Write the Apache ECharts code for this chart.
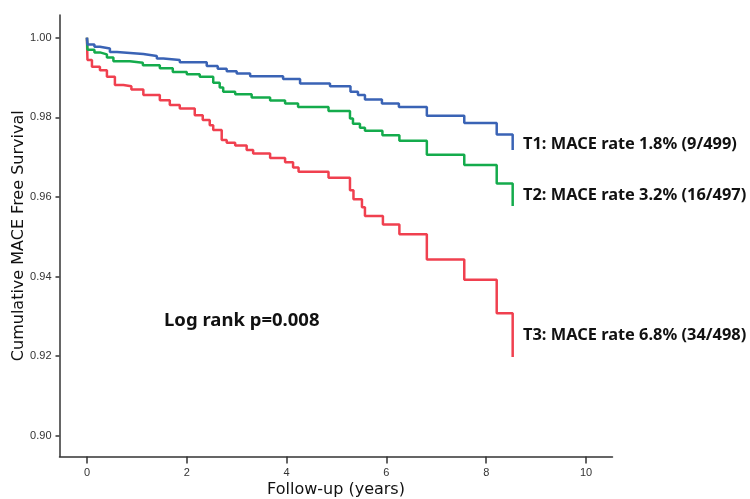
<!DOCTYPE html>
<html>
<head>
<meta charset="utf-8">
<script src="https://cdn.jsdelivr.net/npm/echarts@6/dist/echarts.min.js"></script>
<style>
html,body{margin:0;padding:0;background:#fff;}
#main{width:750px;height:499px;}
</style>
</head>
<body>
<div id="main"></div>
<script>
// follow-up time (years) and survival after each step
var t1Time=[0,0.01,0.15,0.26,0.46,0.60,1.13,1.40,1.53,1.86,2.40,2.62,2.80,3.00,3.27,3.93,4.27,4.87,5.28,5.43,5.57,5.91,6.25,6.81,7.56,8.21,8.53];
var t1Surv=[1.000,0.9983,0.9977,0.9973,0.9964,0.9959,0.9954,0.9948,0.9944,0.9938,0.9929,0.9922,0.9916,0.9910,0.9903,0.9896,0.9885,0.9878,0.9864,0.9856,0.9845,0.9835,0.9826,0.9804,0.9786,0.9757,0.9718];

var t2Time=[0,0.01,0.15,0.26,0.40,0.53,0.86,1.12,1.46,1.72,2.00,2.26,2.53,2.66,2.73,2.97,3.30,3.67,3.97,4.23,4.84,5.27,5.33,5.47,5.57,5.92,6.26,6.81,7.56,8.21,8.53];
var t2Surv=[1.000,0.9970,0.9963,0.9958,0.9950,0.9941,0.9937,0.9931,0.9923,0.9914,0.9908,0.9902,0.9887,0.9875,0.9864,0.9858,0.9850,0.9842,0.9835,0.9826,0.9816,0.9797,0.9784,0.9774,0.9766,0.9755,0.9741,0.9706,0.9680,0.9634,0.9577];

var t3Time=[0,0.01,0.10,0.26,0.40,0.56,0.73,0.89,1.13,1.46,1.66,1.86,2.16,2.32,2.46,2.53,2.70,2.80,2.97,3.20,3.33,3.67,3.97,4.13,4.24,4.84,5.27,5.34,5.51,5.57,5.93,6.26,6.81,7.56,8.21,8.53];
var t3Surv=[1.000,0.9944,0.9927,0.9918,0.9902,0.9881,0.9878,0.9870,0.9856,0.9843,0.9831,0.9822,0.9805,0.9793,0.9780,0.9768,0.9743,0.9736,0.9729,0.9718,0.9709,0.9698,0.9687,0.9674,0.9663,0.9648,0.9617,0.9594,0.9574,0.9552,0.9531,0.9506,0.9443,0.9392,0.9308,0.9198];

var xTicks=[0,2,4,6,8,10];
var yTicks=[0.90,0.92,0.94,0.96,0.98,1.00];
var groupLabels=['T1: MACE rate 1.8% (9/499)','T2: MACE rate 3.2% (16/497)','T3: MACE rate 6.8% (34/498)'];
var pText='Log rank p=0.008';

function pairs(t,s){
	var out=[];
	for(var i=0;i<t.length;i++){
		out.push([t[i],s[i]]);
	}
	return out;
}

var chart=echarts.init(document.getElementById('main'),null,{renderer:'canvas'});
var axisColor='#333';
var tickFont='"Liberation Sans",Arial,sans-serif';
var nameFont='"DejaVu Sans",sans-serif';
var lbl={fontFamily:'"Noto Sans",sans-serif',fontWeight:'bold',fontSize:16.4,fill:'#111',verticalAlign:'middle'};

function curve(name,t,s,color){
	return {
		name:name,
		type:'line',
		step:'end',
		symbol:'none',
		data:pairs(t,s),
		lineStyle:{color:color,width:2.5},
		itemStyle:{color:color},
		animation:false
	};
}

var option={
	backgroundColor:'#fff',
	animation:false,
	grid:{left:59.5,right:137.5,top:15,bottom:42.5,outerBoundsMode:'none',containLabel:false},
	xAxis:{
		type:'value',
		min:-0.55,
		max:10.53,
		name:'Follow-up (years)',
		nameLocation:'middle',
		nameGap:25,
		nameMoveOverlap:false,
		nameTextStyle:{fontFamily:nameFont,fontSize:16,color:'#111'},
		axisLine:{show:true,onZero:false,lineStyle:{color:axisColor,width:1.5}},
		axisTick:{show:true,length:7,customValues:xTicks,lineStyle:{color:axisColor,width:1.5}},
		axisLabel:{customValues:xTicks,margin:11,fontSize:11,color:'#333',fontFamily:tickFont},
		splitLine:{show:false}
	},
	yAxis:{
		type:'value',
		min:0.8948,
		max:1.0057,
		name:'Cumulative MACE Free Survival',
		nameLocation:'middle',
		nameGap:33,
		nameMoveOverlap:false,
		nameTextStyle:{fontFamily:nameFont,fontSize:16,color:'#111'},
		axisLine:{show:true,onZero:false,lineStyle:{color:axisColor,width:1.5}},
		axisTick:{show:true,length:4,customValues:yTicks,lineStyle:{color:axisColor,width:1.5}},
		axisLabel:{customValues:yTicks,margin:8,fontSize:11,color:'#333',fontFamily:tickFont,
			formatter:function(v){return v.toFixed(2);}},
		splitLine:{show:false}
	},
	series:[
		curve('T3',t3Time,t3Surv,'#f0404f'),
		curve('T2',t2Time,t2Surv,'#14ab4c'),
		curve('T1',t1Time,t1Surv,'#3a63b5')
	],
	graphic:[
		{type:'text',x:523,y:144,style:Object.assign({},lbl,{text:groupLabels[0]})},
		{type:'text',x:523,y:195,style:Object.assign({},lbl,{text:groupLabels[1]})},
		{type:'text',x:523,y:335,style:Object.assign({},lbl,{text:groupLabels[2]})},
		{type:'text',x:164,y:321,style:Object.assign({},lbl,{text:pText,fontSize:18.5})}
	]
};
chart.setOption(option);
</script>
</body>
</html>
